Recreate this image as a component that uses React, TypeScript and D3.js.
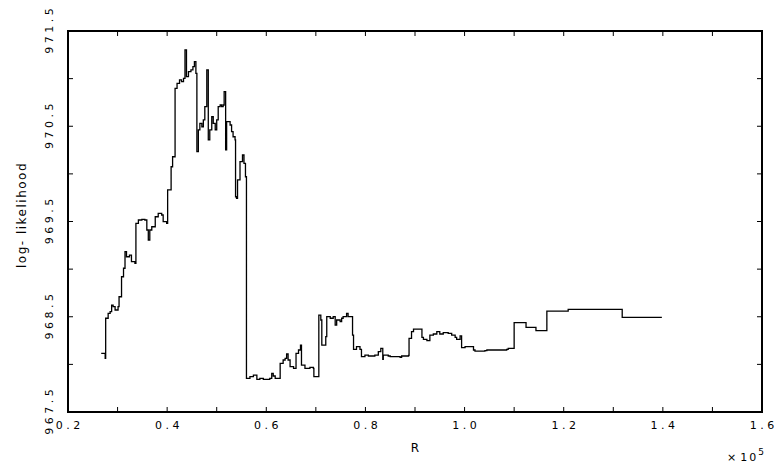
import React from "react";
import * as d3 from "d3";

const R = [
  0.267, 0.275, 0.276, 0.281, 0.285, 0.288, 0.291, 0.295, 0.301, 0.303, 0.308, 0.312, 0.315, 0.318, 0.324, 0.328,
  0.335, 0.337, 0.342, 0.349, 0.355, 0.359, 0.362, 0.365, 0.369, 0.376, 0.382, 0.389, 0.392, 0.399, 0.401, 0.408,
  0.411, 0.416, 0.42, 0.425, 0.429, 0.433, 0.436, 0.439, 0.443, 0.448, 0.452, 0.455, 0.458, 0.46, 0.463, 0.466,
  0.47, 0.473, 0.476, 0.48, 0.483, 0.486, 0.49, 0.493, 0.497, 0.5, 0.503, 0.507, 0.51, 0.513, 0.515, 0.518,
  0.52, 0.527, 0.53, 0.533, 0.537, 0.538, 0.54, 0.542, 0.547, 0.552, 0.555, 0.558, 0.56, 0.567, 0.574, 0.581,
  0.587, 0.594, 0.601, 0.607, 0.611, 0.614, 0.618, 0.628, 0.634, 0.638, 0.641, 0.644, 0.648, 0.655, 0.66, 0.665,
  0.669, 0.671, 0.678, 0.688, 0.695, 0.696, 0.706, 0.71, 0.712, 0.72, 0.722, 0.729, 0.735, 0.739, 0.742, 0.749,
  0.752, 0.755, 0.762, 0.765, 0.774, 0.776, 0.782, 0.789, 0.792, 0.799, 0.806, 0.819, 0.826, 0.831, 0.835, 0.836,
  0.846, 0.85, 0.87, 0.873, 0.887, 0.888, 0.893, 0.897, 0.914, 0.917, 0.924, 0.93, 0.937, 0.944, 0.95, 0.957,
  0.967, 0.974, 0.981, 0.984, 0.991, 0.994, 1.001, 1.018, 1.021, 1.041, 1.045, 1.085, 1.088, 1.1, 1.124, 1.144,
  1.166, 1.209, 1.318, 1.398,
];

const LOGLIK = [
  968.116, 968.064, 968.484, 968.536, 968.553, 968.623, 968.606, 968.571, 968.606, 968.71, 968.92, 969.009, 969.183, 969.13, 969.148, 969.078,
  969.061, 969.481, 969.516, 969.523, 969.516, 969.411, 969.306, 969.411, 969.445, 969.55, 969.586, 969.568, 969.498, 969.481, 969.831, 970.075,
  970.18, 970.898, 970.951, 970.986, 970.968, 971.003, 971.301, 971.02, 971.073, 971.091, 971.125, 971.178, 971.056, 970.233, 970.461, 970.531,
  970.495, 970.566, 970.705, 971.091, 970.356, 970.461, 970.6, 970.531, 970.461, 970.566, 970.705, 970.723, 970.705, 970.723, 970.863, 970.251,
  970.548, 970.513, 970.443, 970.39, 970.356, 969.76, 969.744, 969.936, 970.128, 970.198, 970.111, 969.97, 967.854, 967.871, 967.888, 967.843,
  967.854, 967.843, 967.843, 967.854, 967.906, 967.878, 967.854, 968.011, 968.046, 968.064, 968.109, 968.046, 967.976, 967.959, 968.116, 968.151,
  968.203, 967.993, 967.959, 967.969, 967.959, 967.871, 968.518, 968.466, 968.203, 968.291, 968.501, 968.484, 968.501, 968.413, 968.466, 968.448,
  968.484, 968.501, 968.536, 968.501, 968.308, 968.158, 968.186, 968.158, 968.081, 968.098, 968.088, 968.098, 968.133, 968.169, 968.053, 968.098,
  968.088, 968.081, 968.074, 968.088, 968.095, 968.274, 968.343, 968.371, 968.284, 968.263, 968.249, 968.308, 968.319, 968.343, 968.319, 968.333,
  968.326, 968.308, 968.284, 968.263, 968.3, 968.175, 968.186, 968.151, 968.14, 968.144, 968.151, 968.158, 968.169, 968.438, 968.389, 968.354,
  968.56, 968.578, 968.494, 968.494,
];

const X_TICKS = [0.2, 0.3, 0.4, 0.5, 0.6, 0.7, 0.8, 0.9, 1.0, 1.1, 1.2, 1.3, 1.4, 1.5, 1.6];
const X_LABELS = [0.2, 0.4, 0.6, 0.8, 1.0, 1.2, 1.4, 1.6];
const Y_TICKS = [967.5, 968, 968.5, 969, 969.5, 970, 970.5, 971, 971.5];
const Y_LABELS = [967.5, 968.5, 969.5, 970.5, 971.5];

const W = 778;
const H = 466;
const L = 68;
const Rt = 762;
const T = 31;
const B = 412;
const FONT = "'DejaVu Sans', sans-serif";
const LS = 3.5;

export default function App() {
  const x = d3.scaleLinear().domain([0.2, 1.6]).range([L, Rt]);
  const y = d3.scaleLinear().domain([967.5, 971.5]).range([B, T]);
  const pts = R.map((r, i) => [r, LOGLIK[i]] as [number, number]);
  const line = d3
    .line<[number, number]>()
    .x((d) => x(d[0]))
    .y((d) => y(d[1]))
    .curve(d3.curveStepAfter);
  const fmt = d3.format(".1f");
  const tl = 5;

  return (
    <svg
      width={W}
      height={H}
      style={{ position: "absolute", left: 0, top: 0, background: "#fff" }}
      xmlns="http://www.w3.org/2000/svg"
    >
      <rect x={0} y={0} width={W} height={H} fill="#fff" />
      <path d={line(pts) || ""} fill="none" stroke="#000" strokeWidth={1.3} />
      {X_TICKS.map((t) => (
        <g key={"xt" + t} stroke="#000" strokeWidth={1}>
          <line x1={x(t)} x2={x(t)} y1={B} y2={B - tl} />
          <line x1={x(t)} x2={x(t)} y1={T} y2={T + tl} />
        </g>
      ))}
      {Y_TICKS.map((t) => (
        <g key={"yt" + t} stroke="#000" strokeWidth={1}>
          <line x1={L} x2={L + tl} y1={y(t)} y2={y(t)} />
          <line x1={Rt} x2={Rt - tl} y1={y(t)} y2={y(t)} />
        </g>
      ))}
      <rect x={L} y={T} width={Rt - L} height={B - T} fill="none" stroke="#000" strokeWidth={2} />
      {X_LABELS.map((t) => (
        <text
          key={"xl" + t}
          x={x(t) + LS / 2}
          y={429}
          textAnchor="middle"
          fontFamily={FONT}
          fontSize={11}
          letterSpacing={LS}
          fill="#000"
        >
          {fmt(t)}
        </text>
      ))}
      {Y_LABELS.map((t) => (
        <text
          key={"yl" + t}
          transform={`translate(53,${y(t) - LS / 2}) rotate(-90)`}
          textAnchor="middle"
          fontFamily={FONT}
          fontSize={11}
          letterSpacing={LS}
          fill="#000"
        >
          {fmt(t)}
        </text>
      ))}
      <text
        transform={`translate(26,215) rotate(-90)`}
        textAnchor="middle"
        fontFamily={FONT}
        fontSize={12}
        letterSpacing={1.5}
        fill="#000"
      >
        log- likelihood
      </text>
      <text x={(L + Rt) / 2} y={452} textAnchor="middle" fontFamily={FONT} fontSize={12} fill="#000">
        R
      </text>
      <text x={764} y={461} textAnchor="end" fontFamily={FONT} fontSize={11} fill="#000">
        <tspan>×</tspan>
        <tspan dx={4} letterSpacing={2}>10</tspan>
        <tspan dy={-6} fontSize={9}>5</tspan>
      </text>
    </svg>
  );
}
